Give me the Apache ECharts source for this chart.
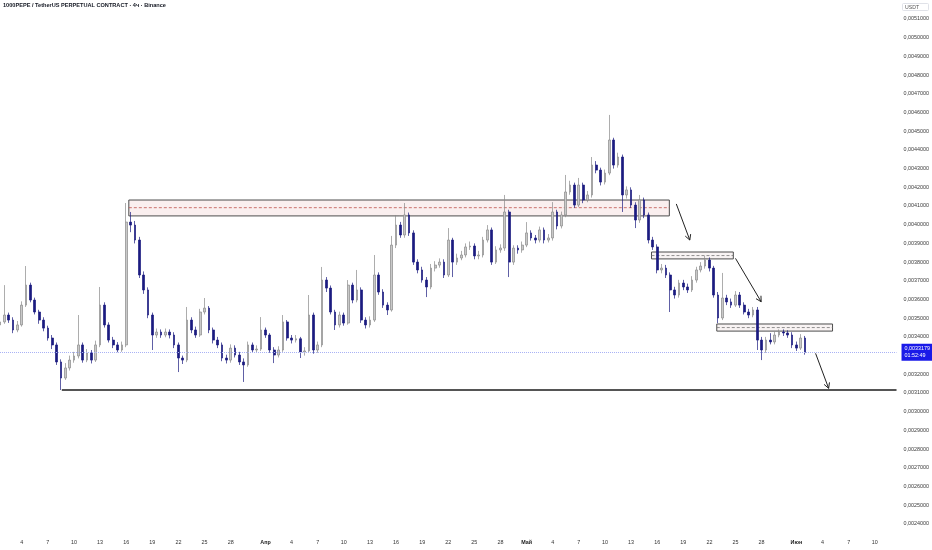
<!DOCTYPE html>
<html>
<head>
<meta charset="utf-8">
<script src="https://cdn.jsdelivr.net/npm/echarts@6/dist/echarts.min.js"></script>
<style>
html,body{margin:0;padding:0;background:#fff;}
#c{width:932px;height:550px;}
</style>
</head>
<body>
<div id="c"></div>
<script>
// Prices in millionths of USDT (3464 = 0,0034640). 12h candles starting 2024-03-01 12:00.
const firstOpen = 3464;
const closes = [
3480,3517,3490,3437,3464,3570,3677,3597,3533,3490,
3447,3394,3357,3266,3180,3234,3276,3298,3357,3276,
3314,3276,3357,3570,3464,3383,3357,3330,3357,4014,
3998,3918,3731,3651,3517,3410,3426,3410,3426,3410,
3357,3287,3276,3490,3437,3410,3533,3554,3437,3383,
3357,3287,3276,3340,3303,3266,3250,3357,3330,3335,
3437,3410,3330,3303,3330,3480,3394,3383,3390,3319,
3325,3517,3330,3357,3704,3661,3533,3464,3517,3474,
3677,3597,3651,3490,3464,3490,3731,3640,3570,3544,
3891,3998,3945,4052,3956,3800,3758,3704,3667,3768,
3784,3800,3731,3918,3800,3822,3838,3881,3886,3833,
3838,3918,3972,3800,3865,3875,4068,3800,3875,3865,
3891,3956,3929,3918,3972,3918,3929,4068,3993,4052,
4175,4212,4105,4212,4132,4159,4319,4292,4228,4276,
4453,4319,4362,4159,4186,4105,4025,4132,4052,3918,
3881,3758,3768,3731,3651,3624,3688,3667,3651,3704,
3758,3779,3811,3768,3624,3501,3608,3587,3570,3624,
3570,3533,3517,3544,3383,3330,3383,3373,3410,3426,
3421,3410,3357,3340,3394,3317.9];
const highs = [
3500,3677,3530,3505,3485,3590,3779,3690,3610,3545,
3505,3460,3410,3370,3280,3260,3300,3320,3517,3370,
3335,3330,3380,3667,3585,3478,3400,3372,3375,4116,
4068,4020,3935,3750,3665,3530,3445,3440,3445,3440,
3425,3370,3300,3560,3505,3455,3550,3608,3565,3450,
3400,3370,3305,3360,3355,3320,3285,3375,3370,3355,
3506,3450,3420,3345,3350,3517,3490,3410,3410,3400,
3345,3624,3530,3375,3774,3720,3675,3545,3535,3530,
3704,3690,3758,3665,3505,3510,3838,3745,3655,3585,
3940,4052,4015,4116,4065,3970,3815,3775,3720,3790,
3805,3820,3815,3982,3930,3845,3860,3900,3910,3900,
3860,3935,3998,3985,3885,3895,4159,4080,3890,3890,
3910,4014,3970,3945,3990,3985,3950,4121,4080,4070,
4266,4235,4225,4250,4225,4180,4362,4340,4305,4295,
4587,4465,4385,4375,4205,4200,4120,4159,4145,4065,
3935,3895,3790,3785,3745,3668,3705,3705,3685,3725,
3775,3800,3833,3825,3780,3640,3742,3625,3605,3645,
3640,3585,3550,3560,3560,3400,3400,3420,3430,3440,
3440,3435,3425,3375,3415,3405];
const lows = [
3450,3470,3475,3420,3425,3455,3560,3585,3520,3470,
3430,3380,3335,3250,3116,3170,3220,3262,3285,3262,
3265,3258,3266,3345,3450,3370,3340,3318,3320,3345,
3960,3900,3715,3630,3500,3330,3395,3395,3398,3392,
3340,3212,3255,3265,3420,3395,3400,3520,3420,3365,
3340,3270,3258,3262,3290,3250,3159,3240,3315,3315,
3325,3395,3315,3260,3290,3320,3380,3365,3370,3287,
3300,3315,3310,3315,3345,3640,3520,3437,3450,3460,
3465,3580,3585,3475,3445,3450,3480,3625,3555,3517,
3535,3875,3930,3930,3940,3785,3740,3690,3613,3655,
3750,3770,3715,3720,3720,3785,3810,3825,3865,3815,
3815,3825,3905,3785,3790,3850,3860,3720,3785,3845,
3850,3880,3915,3900,3905,3900,3905,3915,3975,3980,
4040,4160,4090,4095,4115,4120,4145,4275,4210,4215,
4265,4300,4305,4068,4140,4090,3982,4010,4035,3900,
3865,3740,3740,3715,3533,3605,3610,3650,3635,3640,
3690,3745,3765,3750,3610,3474,3490,3570,3555,3560,
3555,3520,3500,3505,3330,3276,3315,3360,3360,3398,
3405,3395,3340,3325,3330,3305];

// Time axis: 12h slots, 2024-03-01 12:00 .. 2024-06-12 12:00
const slotCount = 207;
const tickDays = [1,4,7,10,13,16,19,22,25,28];
const monthNames = ['Янв','Фев','Мар','Апр','Май','Июн','Июл','Авг','Сен','Окт','Ноя','Дек'];

// Annotations (x in slot index, y in price units)
const zones = [ // [xStart, xEnd, top, bottom, mid]
  [29.6, 153.8, 4132, 4047, 4091],
  [149.7, 168.5, 3854, 3817, 3835],
  [164.7, 191.3, 3469, 3431, 3450]
];
const arrows = [ // [x1, y1, x2, y2]
  [155.4, 4111, 158.5, 3918],
  [169.0, 3820, 174.9, 3588],
  [187.4, 3312, 190.4, 3125]
];
const supportLine = [[14.2, 206, 3116]];
const countdown = '01:52:49';

const pad = n => (n < 10 ? '0' : '') + n;
const categories = [];
const t0 = Date.UTC(2024, 2, 1, 12);
for (let i = 0; i < slotCount; i++) {
  const d = new Date(t0 + i * 12 * 3600 * 1000);
  categories.push(d.getUTCFullYear() + '-' + pad(d.getUTCMonth() + 1) + '-' + pad(d.getUTCDate()) + ' ' + pad(d.getUTCHours()) + ':00');
}
const candles = closes.map((c, i) => [i === 0 ? firstOpen : closes[i - 1], c, lows[i], highs[i]]);
const fmtPrice = v => (v / 1e6).toFixed(7).replace('.', ',');
const zoneStyles = [
  {fill: 'rgba(242,210,210,0.35)', dash: '#c0504d'},
  {fill: 'rgba(235,222,222,0.35)', dash: '#777777'},
  {fill: 'rgba(235,222,222,0.35)', dash: '#777777'}
];
const FONT = 'Liberation Sans';

const chart = echarts.init(document.getElementById('c'), null, {renderer: 'canvas'});
chart.setOption({
  animation: false,
  backgroundColor: '#ffffff',
  textStyle: {fontFamily: FONT},
  title: [
    {text: '1000PEPE / TetherUS PERPETUAL CONTRACT · 4ч · Binance', left: 3, top: 2, padding: 0,
     textStyle: {fontSize: 5.6, fontWeight: 'bold', color: '#131722', fontFamily: FONT}},
    {text: 'USDT', left: 902, top: 3, padding: [2, 10, 1, 3], borderColor: '#d8dbe2', borderWidth: 0.8, borderRadius: 1,
     textStyle: {fontSize: 5.2, fontWeight: 'normal', color: '#555', fontFamily: FONT}}
  ],
  grid: {left: 0, right: 34, top: 0.3, bottom: 7.4},
  xAxis: [
    {type: 'category', data: categories, boundaryGap: false,
     axisLine: {show: false}, axisTick: {show: false}, splitLine: {show: false},
     axisLabel: {
       margin: -3, fontSize: 5.4, color: '#333',
       interval: function (idx, val) {
         const day = parseInt(val.slice(8, 10), 10);
         return val.slice(11, 13) === '00' && tickDays.indexOf(day) >= 0;
       },
       formatter: function (val) {
         const day = parseInt(val.slice(8, 10), 10);
         const m = parseInt(val.slice(5, 7), 10) - 1;
         return day === 1 ? '{m|' + monthNames[m] + '}' : String(day);
       },
       rich: {m: {fontSize: 5.4, fontWeight: 'bold', color: '#222'}}
     }},
    {type: 'value', min: 0, max: slotCount - 1, show: false}
  ],
  yAxis: {
    type: 'value', position: 'right', min: 2300, max: 5200, interval: 100, scale: false,
    axisLine: {show: false}, axisTick: {show: false}, splitLine: {show: false},
    axisLabel: {margin: 7, fontSize: 5.4, color: '#3a3a3a', showMinLabel: false, showMaxLabel: false,
      formatter: fmtPrice}
  },
  series: [
    {
      type: 'custom', name: 'zones', xAxisIndex: 1, yAxisIndex: 0, z: 1, clip: false,
      data: zones, encode: {x: [0, 1], y: [2, 3, 4]},
      renderItem: function (params, api) {
        const p1 = api.coord([api.value(0), api.value(2)]);
        const p2 = api.coord([api.value(1), api.value(3)]);
        const m1 = api.coord([api.value(0), api.value(4)]);
        const m2 = api.coord([api.value(1), api.value(4)]);
        const st = zoneStyles[params.dataIndex];
        return {type: 'group', children: [
          {type: 'rect', shape: {x: p1[0], y: p1[1], width: p2[0] - p1[0], height: p2[1] - p1[1]},
           style: {fill: st.fill, stroke: '#4d4d4d', lineWidth: 1}},
          {type: 'line', shape: {x1: m1[0], y1: m1[1], x2: m2[0], y2: m2[1]},
           style: {stroke: st.dash, lineWidth: 0.8, lineDash: [3, 2]}}
        ]};
      }
    },
    {
      type: 'custom', name: 'support', xAxisIndex: 1, yAxisIndex: 0, z: 3, clip: false,
      data: supportLine, encode: {x: [0, 1], y: 2},
      renderItem: function (params, api) {
        const a = api.coord([api.value(0), api.value(2)]);
        const b = api.coord([api.value(1), api.value(2)]);
        return {type: 'line', shape: {x1: a[0], y1: a[1], x2: b[0], y2: b[1]},
                style: {stroke: '#555', lineWidth: 1.8}};
      }
    },
    {
      type: 'candlestick', name: '1000PEPEUSDT', xAxisIndex: 0, yAxisIndex: 0, z: 2,
      data: candles, barWidth: 2.2,
      itemStyle: {color: '#c9c9c9', borderColor: '#8a8a8a', color0: '#1b1b80', borderColor0: '#1b1b80', borderWidth: 0.7},
      markLine: {
        silent: true, symbol: 'none', animation: false,
        lineStyle: {type: 'dotted', color: '#a9b2f5', width: 1},
        label: {position: 'end', distance: 5, formatter: function (p) { return fmtPrice(p.value) + '\n' + countdown; },
                backgroundColor: '#1a1ae8', color: '#ffffff', fontSize: 5.4, lineHeight: 7, padding: [2, 3, 1, 3], fontFamily: FONT},
        data: [{yAxis: closes[closes.length - 1]}]
      }
    },
    {
      type: 'custom', name: 'arrows', xAxisIndex: 1, yAxisIndex: 0, z: 4, clip: false,
      data: arrows, encode: {x: [0, 2], y: [1, 3]},
      renderItem: function (params, api) {
        const a = api.coord([api.value(0), api.value(1)]);
        const b = api.coord([api.value(2), api.value(3)]);
        const ang = Math.atan2(b[1] - a[1], b[0] - a[0]);
        const L = 6, s = 0.5;
        const h1 = [b[0] - L * Math.cos(ang - s), b[1] - L * Math.sin(ang - s)];
        const h2 = [b[0] - L * Math.cos(ang + s), b[1] - L * Math.sin(ang + s)];
        return {type: 'group', children: [
          {type: 'line', shape: {x1: a[0], y1: a[1], x2: b[0], y2: b[1]}, style: {stroke: '#222', lineWidth: 1}},
          {type: 'polyline', shape: {points: [h1, b, h2]}, style: {stroke: '#222', lineWidth: 1, fill: 'none'}}
        ]};
      }
    }
  ]
});
</script>
</body>
</html>
